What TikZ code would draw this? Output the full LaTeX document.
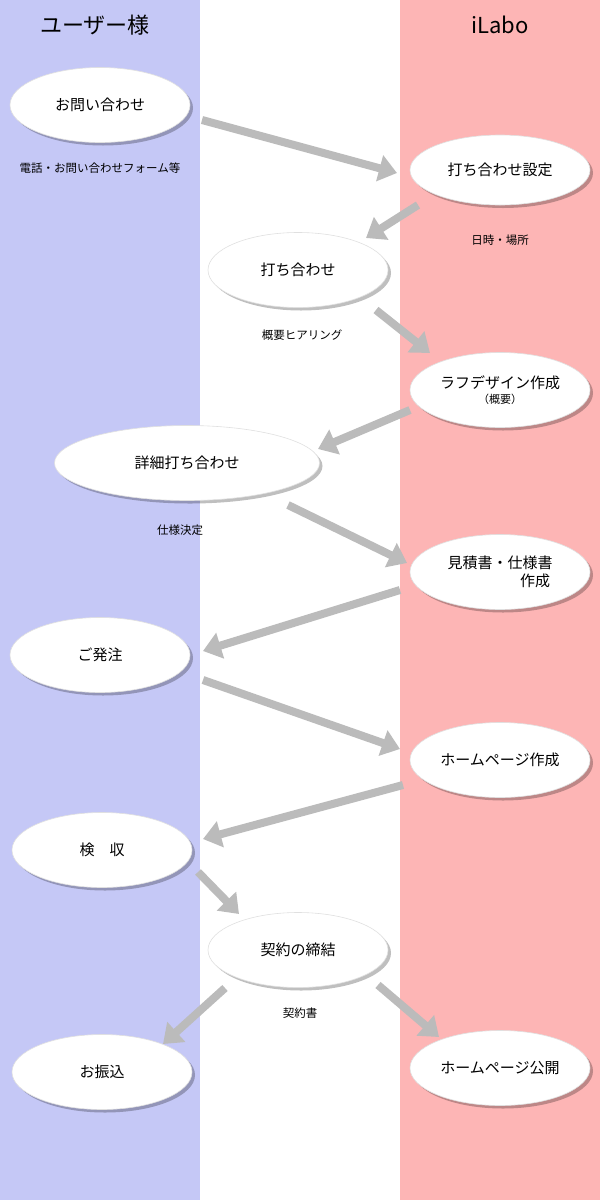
\documentclass[tikz,border=0pt]{standalone}
\usepackage{fontspec}
\setmainfont{Noto Sans CJK JP}
\usetikzlibrary{arrows.meta,shadows,shapes.geometric}
\definecolor{userbg}{HTML}{C5C8F6}
\definecolor{labobg}{HTML}{FDB5B5}
\definecolor{arr}{HTML}{BBBBBB}
\tikzset{
  stepnode/.style={ellipse,fill=white,draw=black!12,line width=0.6pt,minimum width=180pt,minimum height=75pt,font=\fontsize{15pt}{18pt}\selectfont,align=center,
    drop shadow={shadow xshift=3pt,shadow yshift=-3pt,opacity=.25,fill=black,draw=none}},
  note/.style={font=\fontsize{11.5pt}{13pt}\selectfont},
  flow/.style={draw=arr,line width=8pt,-{Triangle[length=18pt,width=26pt]}},
  head/.style={font=\fontsize{22pt}{26pt}\selectfont}
}
\begin{document}
\begin{tikzpicture}[x=1pt,y=-1pt]
\useasboundingbox (0,0) rectangle (600,1200);
\fill[userbg] (0,0) rectangle (200,1200);
\fill[white] (200,0) rectangle (400,1200);
\fill[labobg] (400,0) rectangle (600,1200);
\node[head] (hu) at (95,25) {ユーザー様};
\node[head] (hl) at (500,25) {iLabo};

\node[stepnode] (n1) at (100,105) {お問い合わせ};
\node[stepnode,minimum height=70pt] (n2) at (500,170) {打ち合わせ設定};
\node[stepnode] (n3) at (298,270) {打ち合わせ};
\node[stepnode] (n4) at (500,390) {ラフデザイン作成\\[-3pt]{\fontsize{11pt}{13pt}\selectfont （概要）}};
\node[stepnode,minimum width=265pt] (n5) at (187,463) {詳細打ち合わせ};
\node[stepnode] (n6) at (500,572) {見積書・仕様書\\\hspace*{70pt}作成};
\node[stepnode] (n7) at (100,655) {ご発注};
\node[stepnode] (n8) at (500,760) {ホームページ作成};
\node[stepnode] (n9) at (102,850) {検\quad 収};
\node[stepnode] (n10) at (298,950) {契約の締結};
\node[stepnode] (n11) at (102,1072) {お振込};
\node[stepnode] (n12) at (500,1068) {ホームページ公開};

\node[note] (l1) at (100,168) {電話・お問い合わせフォーム等};
\node[note] (l2) at (500,240) {日時・場所};
\node[note] (l3) at (302,335) {概要ヒアリング};
\node[note] (l5) at (180,530) {仕様決定};
\node[note] (l10) at (300,1013) {契約書};

\coordinate (a1s) at (202,120); \coordinate (a1e) at (397,173);
\coordinate (a2s) at (418,205); \coordinate (a2e) at (366,238);
\coordinate (a3s) at (376,310); \coordinate (a3e) at (430,353);
\coordinate (a4s) at (410,410); \coordinate (a4e) at (318,449);
\coordinate (a5s) at (288,505); \coordinate (a5e) at (407,563);
\coordinate (a6s) at (400,590); \coordinate (a6e) at (203,651);
\coordinate (a7s) at (203,680); \coordinate (a7e) at (400,749);
\coordinate (a8s) at (403,785); \coordinate (a8e) at (203,839);
\coordinate (a9s) at (198,872); \coordinate (a9e) at (239,914);
\coordinate (a10s) at (225,988); \coordinate (a10e) at (163,1044);
\coordinate (a11s) at (378,985); \coordinate (a11e) at (439,1037);
\foreach \i in {1,...,11} \draw[flow] (a\i s) -- (a\i e);
\end{tikzpicture}
\end{document}
